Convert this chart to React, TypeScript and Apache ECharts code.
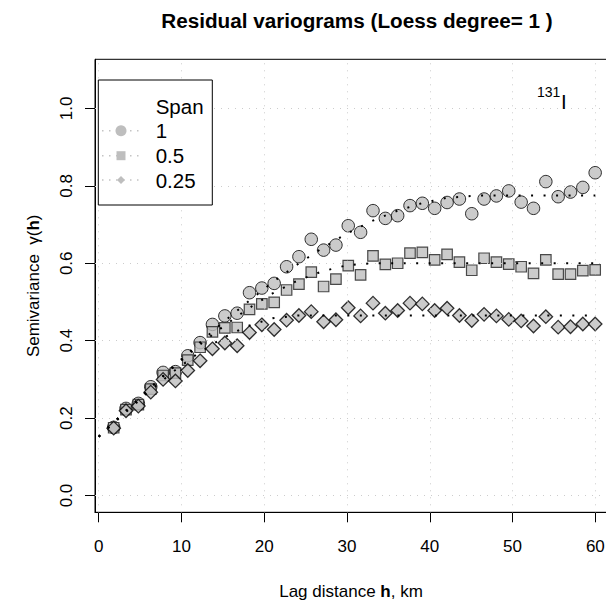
import React, { useEffect, useRef } from 'react';
import * as echarts from 'echarts';

const FONT = '"Liberation Sans", Arial, Helvetica, sans-serif';

// Lag distances (km)
const lags = [1.81, 3.3, 4.79, 6.29, 7.78, 9.27, 10.76, 12.25, 13.74, 15.24, 16.73, 18.22, 19.71, 21.2, 22.7, 24.19, 25.68, 27.17, 28.66, 30.15, 31.64, 33.14, 34.63, 36.12, 37.61, 39.1, 40.59, 42.09, 43.58, 45.07, 46.56, 48.05, 49.54, 51.04, 52.53, 54.02, 55.51, 57.0, 58.49, 59.98];

// Empirical semivariances per loess span
const span1 = [0.176, 0.225, 0.238, 0.281, 0.318, 0.32, 0.361, 0.395, 0.442, 0.464, 0.471, 0.524, 0.536, 0.548, 0.591, 0.617, 0.662, 0.634, 0.647, 0.697, 0.68, 0.736, 0.716, 0.723, 0.749, 0.755, 0.742, 0.757, 0.766, 0.728, 0.766, 0.774, 0.787, 0.758, 0.742, 0.811, 0.772, 0.784, 0.796, 0.834];
const span05 = [0.175, 0.222, 0.235, 0.275, 0.31, 0.316, 0.35, 0.383, 0.423, 0.433, 0.434, 0.481, 0.495, 0.499, 0.531, 0.546, 0.577, 0.54, 0.559, 0.594, 0.57, 0.619, 0.597, 0.6, 0.626, 0.628, 0.609, 0.623, 0.603, 0.582, 0.613, 0.603, 0.598, 0.591, 0.574, 0.609, 0.572, 0.572, 0.581, 0.583];
const span025 = [0.174, 0.219, 0.231, 0.267, 0.3, 0.296, 0.323, 0.348, 0.379, 0.394, 0.387, 0.421, 0.441, 0.429, 0.453, 0.465, 0.475, 0.449, 0.454, 0.485, 0.464, 0.497, 0.471, 0.478, 0.497, 0.495, 0.478, 0.484, 0.465, 0.452, 0.468, 0.464, 0.455, 0.451, 0.438, 0.462, 0.435, 0.436, 0.443, 0.443];

// Fitted variogram models (dotted)
const modelH1 = [0, 3, 6, 9, 12, 15, 18, 21, 24, 27, 30, 33, 36, 39, 42, 45.8, 60];
const model1 = [0.152, 0.213, 0.274, 0.333, 0.391, 0.447, 0.5, 0.551, 0.597, 0.639, 0.677, 0.709, 0.735, 0.755, 0.769, 0.775, 0.775];
const modelH05 = [0, 3, 6, 9, 12, 15, 18, 21, 24, 27, 30, 33, 60];
const model05 = [0.152, 0.213, 0.273, 0.331, 0.386, 0.436, 0.482, 0.522, 0.555, 0.579, 0.595, 0.6, 0.6];
const modelH025 = [0, 3, 6, 9, 12, 15, 18, 21, 24, 60];
const model025 = [0.152, 0.21, 0.267, 0.32, 0.367, 0.407, 0.438, 0.458, 0.465, 0.465];

const xTicks = [0, 10, 20, 30, 40, 50, 60];
const yTicks = [0, 0.2, 0.4, 0.6, 0.8, 1.0];
const legendLabels = ['1', '0.5', '0.25'];

const zip = (a: number[], b: number[]) => a.map((v, i) => [v, b[i]]);

export default function App() {
  const ref = useRef<HTMLDivElement>(null);
  useEffect(() => {
    if (!ref.current) return;
    const chart = echarts.init(ref.current, undefined, { renderer: 'svg' });
    const gridLine = { color: '#cccccc', width: 1, type: [1, 6] as any };
    const pointStyle = { color: '#bebebe', borderColor: '#000', borderWidth: 1 };
    const modelLine = { color: '#000', width: 2, type: [2, 10.5] as any };
    const legendY = [130.7, 155.7, 180];
    const legendSymbols: any[] = [
      { type: 'circle', shape: { cx: 121, cy: legendY[0], r: 5.5 }, style: { fill: '#bebebe' } },
      { type: 'rect', shape: { x: 116.5, y: legendY[1] - 4.5, width: 9, height: 9 }, style: { fill: '#bebebe' } },
      { type: 'polygon', shape: { points: [[121, legendY[2] - 4], [125, legendY[2]], [121, legendY[2] + 4], [117, legendY[2]]] }, style: { fill: '#bebebe' } },
    ];
    const legendDots: any[] = legendY.map((y) => ({
      type: 'line',
      shape: { x1: 102, y1: y, x2: 142, y2: y },
      style: { stroke: '#c4c4c4', lineWidth: 1.5, lineDash: [1.5, 5.5] },
      z: 10,
    }));
    chart.setOption({
      animation: false,
      backgroundColor: '#fff',
      textStyle: { fontFamily: FONT },
      title: {
        text: 'Residual variograms (Loess degree= 1 )',
        left: 352,
        top: 5,
        textAlign: 'center',
        textStyle: { fontFamily: FONT, fontWeight: 'bold', fontSize: 20.7, color: '#000' },
      },
      grid: {
        left: 95,
        right: -1,
        top: 59.3,
        bottom: 88.7,
        show: true,
        borderColor: '#000',
        borderWidth: 1,
        containLabel: false,
        outerBoundsMode: 'none',
      },
      xAxis: {
        type: 'value',
        min: -0.447,
        max: 61.41,
        axisLine: { show: true, onZero: false, lineStyle: { color: '#000', width: 1 } },
        axisTick: { show: true, length: 10, customValues: xTicks, lineStyle: { color: '#000', width: 1 } },
        axisLabel: { customValues: xTicks, margin: 26, fontSize: 17, color: '#000', fontFamily: FONT, formatter: (v: number) => String(v) },
        splitLine: { show: false },
        name: '{n|Lag distance }{b|h}{n|, km}',
        nameLocation: 'middle',
        nameGap: 71,
        nameTextStyle: {
          rich: {
            n: { fontSize: 17, fontFamily: FONT, color: '#000' },
            b: { fontSize: 17, fontFamily: FONT, fontWeight: 'bold', color: '#000' },
          },
        },
      },
      yAxis: {
        type: 'value',
        min: -0.0434,
        max: 1.127,
        axisLine: { show: true, onZero: false, lineStyle: { color: '#000', width: 1 } },
        axisTick: { show: true, length: 10, customValues: yTicks, lineStyle: { color: '#000', width: 1 } },
        axisLabel: { customValues: yTicks, rotate: 90, margin: 20, fontSize: 17, color: '#000', fontFamily: FONT, formatter: (v: number) => v.toFixed(1) },
        splitLine: { show: false },
        name: '{n|Semivariance  }{n|γ(}{b|h}{n|)}',
        nameLocation: 'middle',
        nameGap: 53,
        nameRotate: 90,
        nameTextStyle: {
          rich: {
            n: { fontSize: 17, fontFamily: FONT, color: '#000' },
            b: { fontSize: 17, fontFamily: FONT, fontWeight: 'bold', color: '#000' },
          },
        },
      },
      series: [
        {
          type: 'line',
          data: [],
          z: 1,
          silent: true,
          markLine: {
            silent: true,
            symbol: 'none',
            label: { show: false },
            lineStyle: gridLine,
            data: [...xTicks.map((v) => ({ xAxis: v })), ...yTicks.map((v) => ({ yAxis: v }))],
          },
        },
        { name: '1', type: 'scatter', z: 2, symbol: 'circle', symbolSize: 12.5, itemStyle: pointStyle, data: zip(lags, span1) },
        { name: '0.5', type: 'scatter', z: 3, symbol: 'rect', symbolSize: 10.5, itemStyle: { ...pointStyle, borderColor: '#222', borderWidth: 1.2 }, data: zip(lags, span05) },
        { name: '0.25', type: 'scatter', z: 4, symbol: 'diamond', symbolSize: 13.5, itemStyle: { ...pointStyle, borderWidth: 1.3 }, data: zip(lags, span025) },
        { type: 'line', z: 5, symbol: 'none', lineStyle: modelLine, data: zip(modelH1, model1) },
        { type: 'line', z: 5, symbol: 'none', lineStyle: modelLine, data: zip(modelH05, model05) },
        { type: 'line', z: 5, symbol: 'none', lineStyle: modelLine, data: zip(modelH025, model025) },
      ],
      graphic: [
        {
          type: 'rect',
          shape: { x: 98.3, y: 80, width: 114, height: 125 },
          style: { fill: '#fff', stroke: '#000', lineWidth: 1 },
          z: 9,
        },
        ...legendDots,
        ...legendSymbols.map((s) => ({ ...s, z: 11 })),
        {
          type: 'text',
          x: 155.7,
          y: 106,
          z: 11,
          style: { text: 'Span', fontSize: 20.5, fontFamily: FONT, fill: '#000', textAlign: 'left', textVerticalAlign: 'middle' },
        },
        ...legendLabels.map((t, i) => ({
          type: 'text',
          x: 155.7,
          y: legendY[i],
          z: 11,
          style: { text: t, fontSize: 20.5, fontFamily: FONT, fill: '#000', textAlign: 'left', textVerticalAlign: 'middle' },
        })),
        {
          type: 'text',
          x: 537,
          y: 98.5,
          z: 11,
          style: { text: '131', fontSize: 14, fontFamily: FONT, fill: '#000', textAlign: 'left', textVerticalAlign: 'bottom' },
        },
        {
          type: 'text',
          x: 561,
          y: 112,
          z: 11,
          style: { text: 'I', fontSize: 20.5, fontFamily: FONT, fill: '#000', textAlign: 'left', textVerticalAlign: 'bottom' },
        },
      ],
    });
    return () => chart.dispose();
  }, []);
  return <div ref={ref} style={{ position: 'fixed', left: 0, top: 0, width: 606, height: 601 }} />;
}
